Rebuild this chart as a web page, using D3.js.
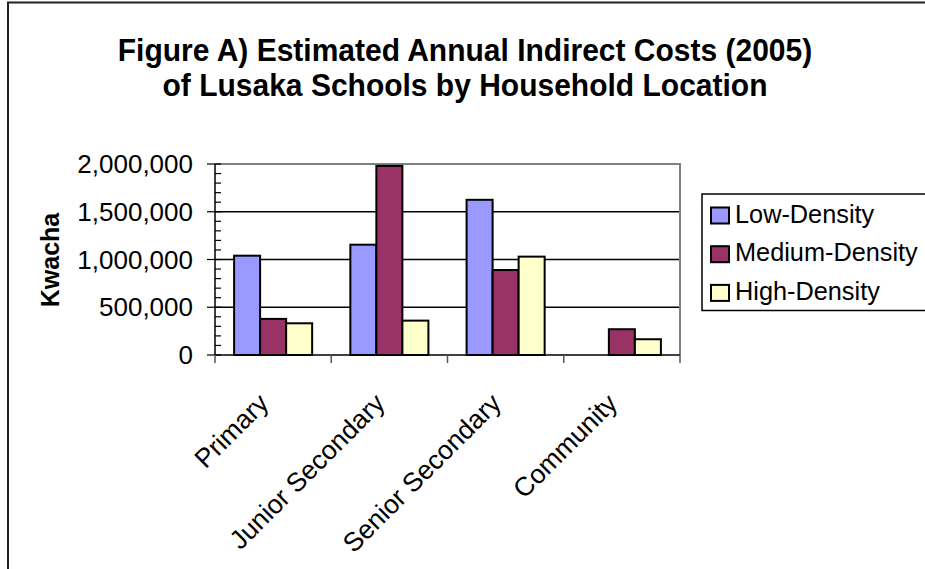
<!DOCTYPE html>
<html>
<head>
<meta charset="utf-8">
<script src="https://cdn.jsdelivr.net/npm/d3@7"></script>
<style>
  html, body { margin: 0; padding: 0; background: #fff; }
  svg { display: block; }
  text { font-family: "Liberation Sans", Arial, sans-serif; fill: #000; }
</style>
</head>
<body>
<svg id="chart" width="925" height="569"></svg>
<script>
// School types (x categories)
const categories = ["Primary", "Junior Secondary", "Senior Secondary", "Community"];
// Household location series
const seriesNames = ["Low-Density", "Medium-Density", "High-Density"];
// Estimated annual indirect costs in Kwacha, one array per series
const lowDensity = [1040000, 1155000, 1625000, 0];
const mediumDensity = [378000, 1980000, 890000, 270000];
const highDensity = [332000, 360000, 1030000, 165000];
// Y axis tick values
const yTicks = [0, 500000, 1000000, 1500000, 2000000];
const yMinorStep = 100000;
const titleLines = ["Figure A) Estimated Annual Indirect Costs (2005)", "of Lusaka Schools by Household Location"];
const yAxisTitle = "Kwacha";

const seriesValues = [lowDensity, mediumDensity, highDensity];
const colors = ["#9999FF", "#993366", "#FFFFCC"];

const svg = d3.select("#chart");
const plot = { left: 215, right: 680, top: 164, bottom: 355 };

// Outer chart frame
svg.append("rect")
  .attr("x", 8).attr("y", 2.5)
  .attr("width", 1000).attr("height", 700)
  .attr("fill", "#fff").attr("stroke", "#222").attr("stroke-width", 2);

// Title
svg.selectAll("text.title")
  .data(titleLines)
  .join("text")
  .attr("class", "title")
  .attr("text-anchor", "middle")
  .attr("font-weight", "bold")
  .attr("font-size", 30)
  .attr("transform", (d, i) => `translate(465,${61 + i * 35}) scale(1,1.06)`)
  .text(d => d);

const x0 = d3.scaleBand().domain(categories).range([plot.left, plot.right]).padding(0);
const bw = x0.bandwidth();
const x1 = d3.scaleBand().domain(seriesNames)
  .range([bw * 0.1643, bw * (1 - 0.1643)]).padding(0);
const y = d3.scaleLinear().domain([0, 2000000]).range([plot.bottom, plot.top]);

// Plot area background
svg.append("rect")
  .attr("x", plot.left).attr("y", plot.top)
  .attr("width", plot.right - plot.left).attr("height", plot.bottom - plot.top)
  .attr("fill", "#fff");

// Gridlines
svg.append("g").selectAll("line")
  .data(yTicks.filter(v => v > 0))
  .join("line")
  .attr("x1", plot.left).attr("x2", plot.right)
  .attr("y1", d => y(d)).attr("y2", d => y(d))
  .attr("stroke", "#000").attr("stroke-width", 1.3);

// Plot area border (top and right in gray)
svg.append("path")
  .attr("d", `M${plot.left},${plot.top}H${plot.right}V${plot.bottom}`)
  .attr("fill", "none").attr("stroke", "#808080").attr("stroke-width", 2);

// Bars
const groups = svg.append("g").selectAll("g")
  .data(categories)
  .join("g")
  .attr("transform", d => `translate(${x0(d)},0)`);

groups.selectAll("rect")
  .data((c, ci) => seriesNames.map((s, si) => ({ s, si, v: seriesValues[si][ci] })))
  .join("rect")
  .filter(d => d.v > 0)
  .attr("x", d => x1(d.s))
  .attr("y", d => y(d.v))
  .attr("width", x1.bandwidth())
  .attr("height", d => y(0) - y(d.v))
  .attr("fill", d => colors[d.si])
  .attr("stroke", "#000").attr("stroke-width", 2);

// Y axis: line, major and minor ticks
const yAxisG = svg.append("g");
yAxisG.append("line")
  .attr("x1", plot.left).attr("x2", plot.left)
  .attr("y1", plot.top).attr("y2", plot.bottom)
  .attr("stroke", "#000").attr("stroke-width", 1.5);
const minor = d3.range(0, 2000000 + 1, yMinorStep).filter(v => !yTicks.includes(v));
yAxisG.selectAll("line.minor")
  .data(minor).join("line").attr("class", "minor")
  .attr("x1", plot.left).attr("x2", plot.left + 6)
  .attr("y1", d => y(d)).attr("y2", d => y(d))
  .attr("stroke", "#000").attr("stroke-width", 1.2);
yAxisG.selectAll("line.major")
  .data(yTicks).join("line").attr("class", "major")
  .attr("x1", plot.left - 8).attr("x2", plot.left + 6)
  .attr("y1", d => y(d)).attr("y2", d => y(d))
  .attr("stroke", "#000").attr("stroke-width", 1.2);
const fmt = d3.format(",");
yAxisG.selectAll("text")
  .data(yTicks).join("text")
  .attr("text-anchor", "end")
  .attr("font-size", 26)
  .attr("transform", d => `translate(193,${y(d) + 9})`)
  .text(d => fmt(d));

// X axis: baseline and category boundary ticks
const xAxisG = svg.append("g");
xAxisG.append("line")
  .attr("x1", plot.left).attr("x2", plot.right)
  .attr("y1", plot.bottom).attr("y2", plot.bottom)
  .attr("stroke", "#000").attr("stroke-width", 1.5);
const bounds = categories.map(c => x0(c)).concat([plot.right]);
xAxisG.selectAll("line.tick")
  .data(bounds).join("line").attr("class", "tick")
  .attr("x1", d => d).attr("x2", d => d)
  .attr("y1", plot.bottom).attr("y2", plot.bottom + 8)
  .attr("stroke", "#555").attr("stroke-width", 1.5);
xAxisG.selectAll("text")
  .data(categories).join("text")
  .attr("text-anchor", "end")
  .attr("font-size", 26.5)
  .attr("transform", d => `translate(${x0(d) + bw / 2 - 3},${plot.bottom + 50}) rotate(-45)`)
  .text(d => d);

// Y axis title
svg.append("text")
  .attr("text-anchor", "middle")
  .attr("font-weight", "bold")
  .attr("font-size", 25)
  .attr("transform", `translate(59,260) rotate(-90)`)
  .text(yAxisTitle);

// Legend
const lg = svg.append("g");
lg.append("rect")
  .attr("x", 702).attr("y", 194)
  .attr("width", 300).attr("height", 116.5)
  .attr("fill", "#fff").attr("stroke", "#000").attr("stroke-width", 1.5);
const items = lg.selectAll("g.item")
  .data(seriesNames).join("g").attr("class", "item")
  .attr("transform", (d, i) => `translate(0,${222.5 + i * 38.7})`);
items.append("rect")
  .attr("x", 711).attr("y", -15)
  .attr("width", 18).attr("height", 16)
  .attr("fill", (d, i) => colors[i]).attr("stroke", "#000").attr("stroke-width", 2);
items.append("text")
  .attr("font-size", 25.3)
  .attr("x", 735)
  .text(d => d);
</script>
</body>
</html>
